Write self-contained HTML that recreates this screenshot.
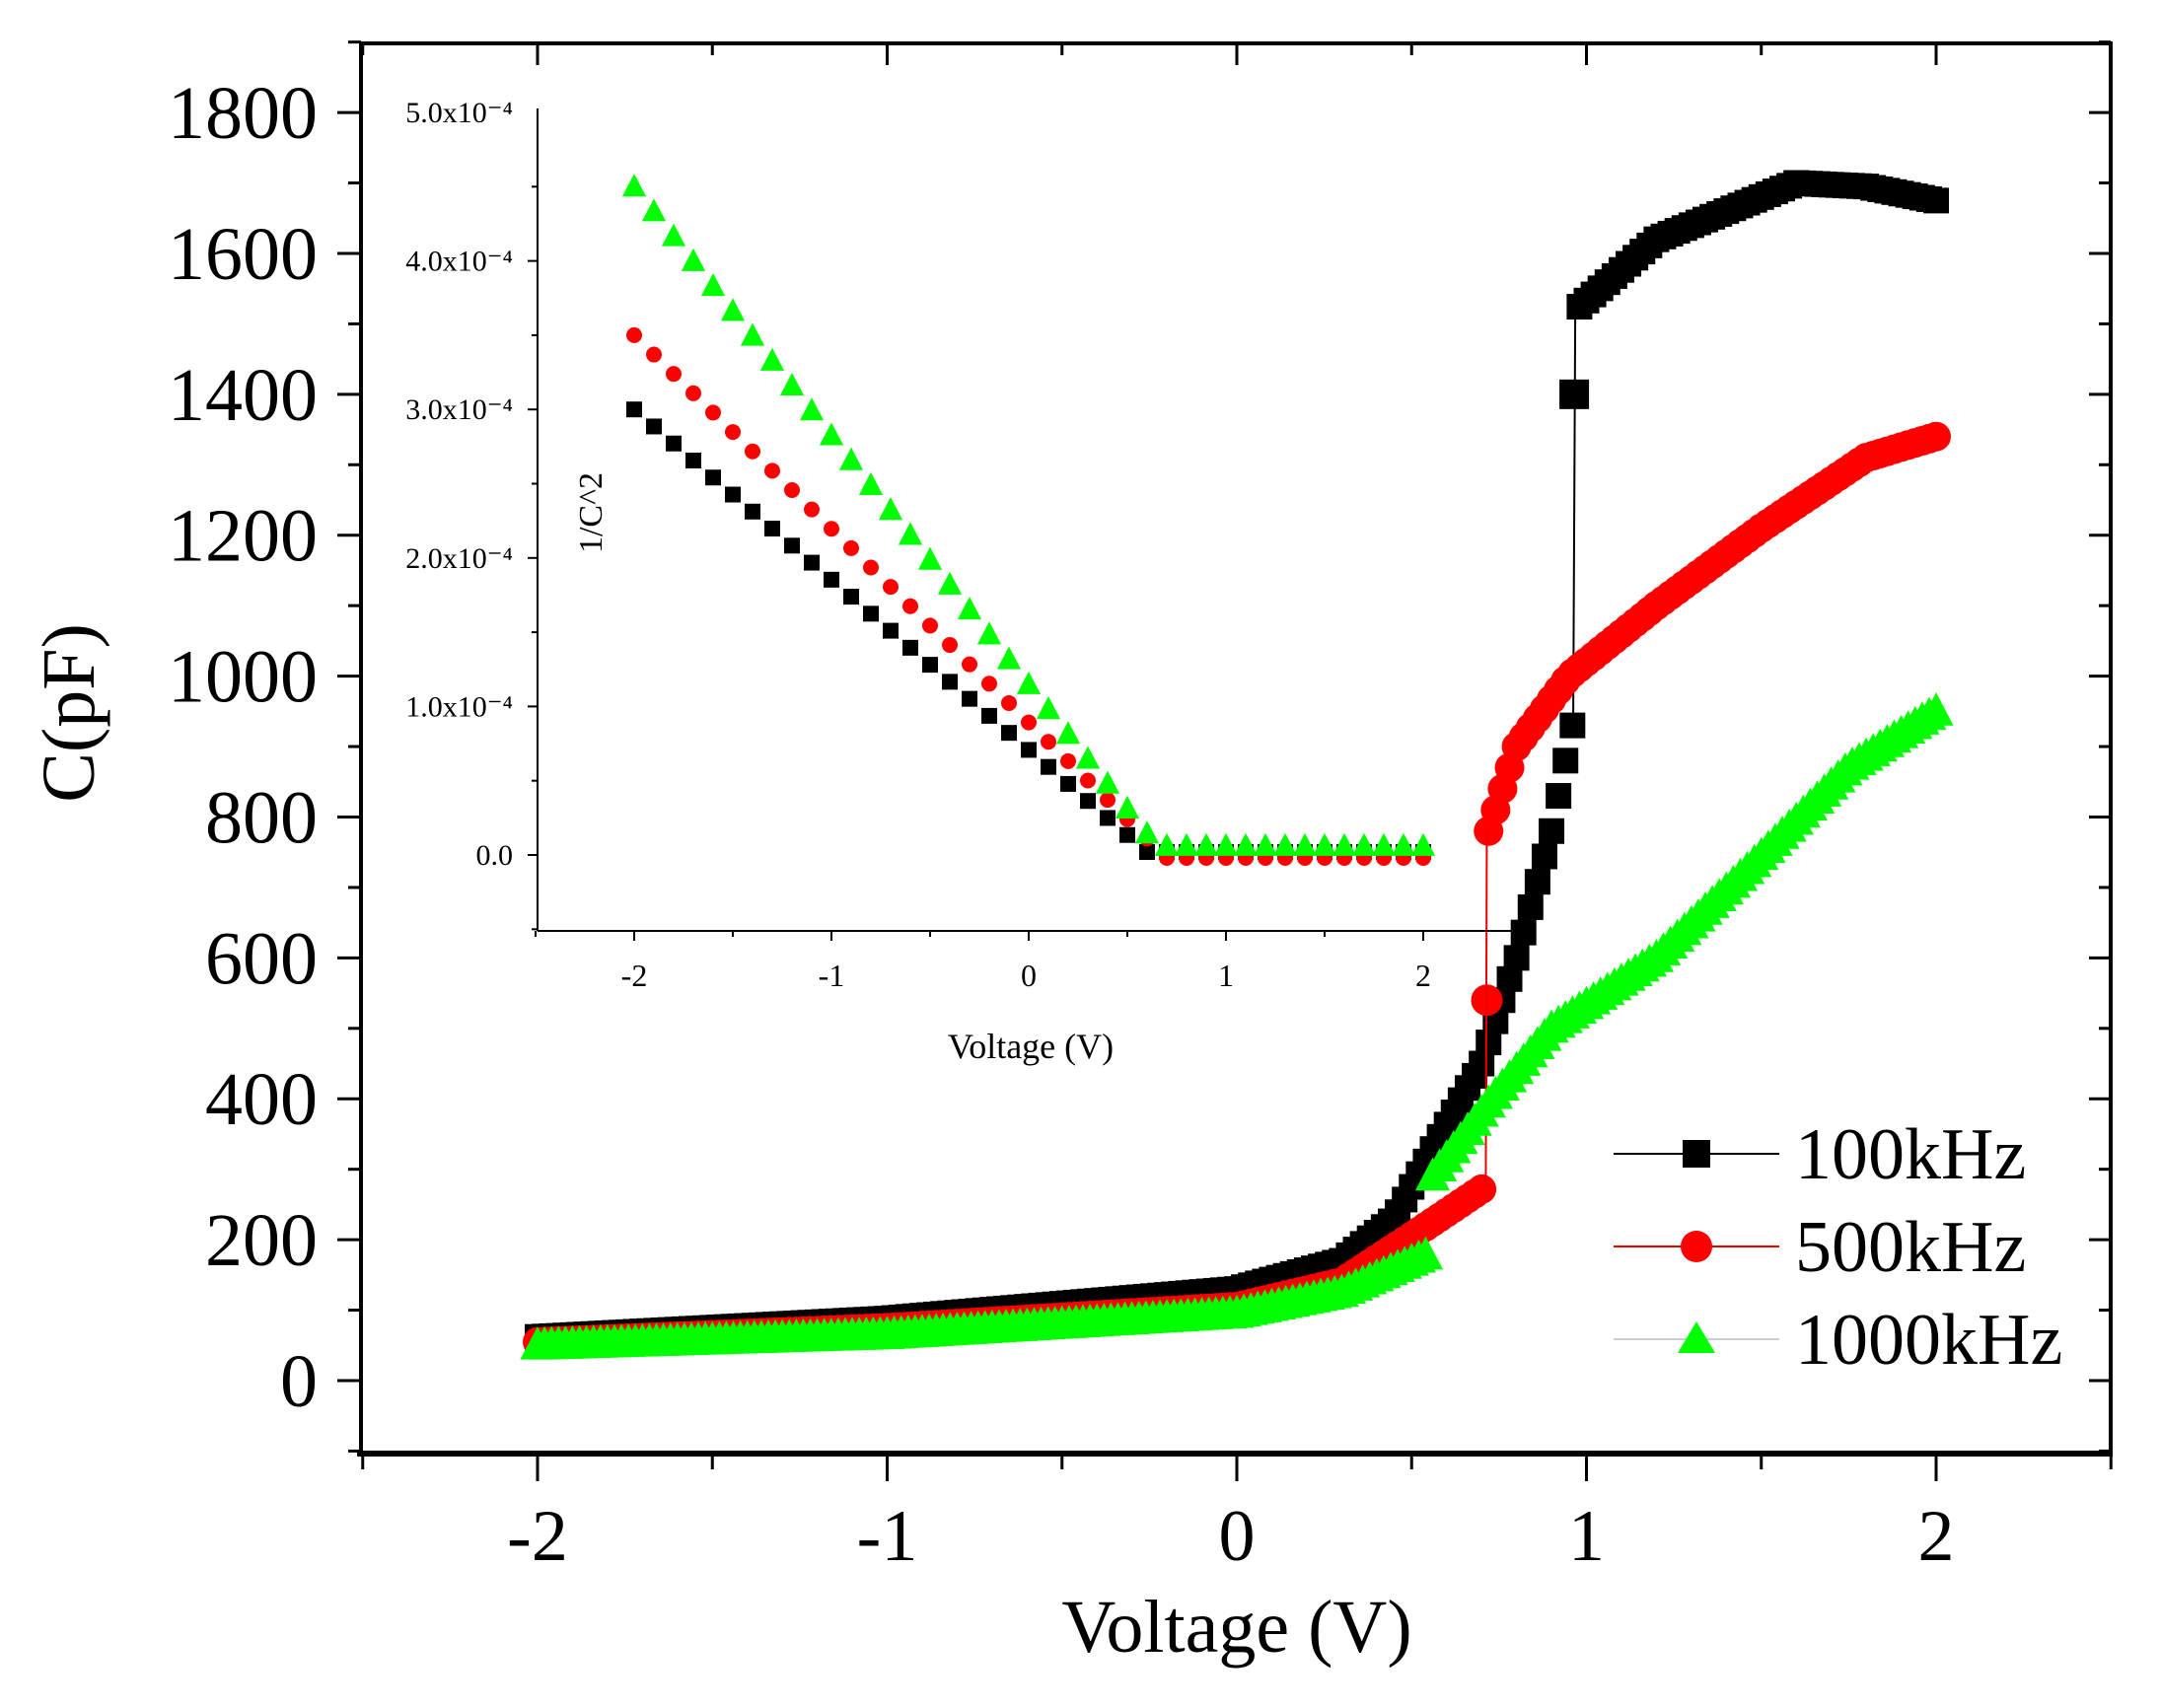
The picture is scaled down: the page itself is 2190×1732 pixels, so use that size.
<!DOCTYPE html>
<html><head><meta charset="utf-8">
<style>
html,body{margin:0;padding:0;background:#fff;}
svg{display:block;}
text{font-family:"Liberation Serif",serif;fill:#000;}
</style></head>
<body>
<svg id="s" width="2190" height="1732" viewBox="0 0 2190 1732" xmlns="http://www.w3.org/2000/svg">
<rect width="2190" height="1732" fill="#fff"/>
<g id="g"></g>
<rect x="366" y="44" width="1774" height="1430" fill="none" stroke="#000" stroke-width="4"/>
<line x1="362" y1="1474" x2="2142" y2="1474" stroke="#000" stroke-width="6"/>
<g font-size="76" text-anchor="end" id="yl"></g>
<g font-size="74" text-anchor="middle" id="xl"></g>
<text x="1254" y="1675" font-size="76" text-anchor="middle">Voltage (V)</text>
<text transform="translate(95,723) rotate(-90)" font-size="76" text-anchor="middle">C(pF)</text>
<line x1="545" y1="110" x2="545" y2="944" stroke="#000" stroke-width="2"/>
<line x1="545" y1="944" x2="1545" y2="944" stroke="#000" stroke-width="2"/>
<g font-size="30" text-anchor="end" id="iyl"></g>
<g font-size="32" text-anchor="middle" id="ixl"></g>
<text x="1045" y="1073" font-size="36" text-anchor="middle">Voltage (V)</text>
<text transform="translate(610,520) rotate(-90)" font-size="34" text-anchor="middle">1/C^2</text>
<line x1="1636" y1="1170" x2="1804" y2="1170" stroke="#000" stroke-width="2"/>
<rect x="1706" y="1156" width="28" height="28" fill="#000"/>
<line x1="1636" y1="1264" x2="1804" y2="1264" stroke="#e00" stroke-width="2"/>
<circle cx="1720" cy="1264" r="16" fill="#f00"/>
<line x1="1636" y1="1358" x2="1804" y2="1358" stroke="#ccd" stroke-width="2"/>
<polygon points="1720,1340 1739,1372 1701,1372" fill="#0f0"/>
<text x="1820" y="1195" font-size="74">100kHz</text>
<text x="1820" y="1289" font-size="74">500kHz</text>
<text x="1820" y="1383" font-size="74">1000kHz</text>
</svg>
<script>
const NS="http://www.w3.org/2000/svg";
const s=document.getElementById('s'),g=document.getElementById('g');
function el(t,a,p){const e=document.createElementNS(NS,t);for(const k in a)e.setAttribute(k,a[k]);(p||g).appendChild(e);return e;}
const X=v=>1254+v*354.5, Y=c=>1400-c*0.7144;
const IX=v=>1043+v*200, IY=c=>867-c*150.6;
for(let v=-2.5;v<=2.51;v+=0.5){const maj=Math.abs(v-Math.round(v))<1e-6;
 el('line',{x1:X(v),y1:1474,x2:X(v),y2:1474+(maj?28:16),stroke:'#000','stroke-width':3},s);
 el('line',{x1:X(v),y1:44,x2:X(v),y2:44+(maj?22:12),stroke:'#000','stroke-width':3},s);
 if(maj){const t=el('text',{x:X(v),y:1582},document.getElementById('xl'));t.textContent=(v<0?'-':'')+Math.abs(v);}}
for(let c=-100;c<=1900;c+=100){const maj=c%200==0;
 el('line',{x1:366,y1:Y(c),x2:366-(maj?24:13),y2:Y(c),stroke:'#000','stroke-width':3},s);
 el('line',{x1:2140,y1:Y(c),x2:2140-(maj?22:12),y2:Y(c),stroke:'#000','stroke-width':3},s);
 if(maj&&c>=0){const t=el('text',{x:322,y:Y(c)+26},document.getElementById('yl'));t.textContent=c;}}
for(let v=-2.5;v<=2.51;v+=0.5){const maj=Math.abs(v-Math.round(v))<1e-6;
 el('line',{x1:IX(v),y1:944,x2:IX(v),y2:944+(maj?10:6),stroke:'#000','stroke-width':2},s);
 if(maj){const t=el('text',{x:IX(v),y:1000},document.getElementById('ixl'));t.textContent=(v<0?'-':'')+Math.abs(v);}}
const lab=['0.0','1.0x10⁻⁴','2.0x10⁻⁴','3.0x10⁻⁴','4.0x10⁻⁴','5.0x10⁻⁴'];
for(let i=0;i<=10;i++){const c=i*0.5-0.5;const maj=i%2==1;
 el('line',{x1:545,y1:IY(c),x2:545-(maj?10:6),y2:IY(c),stroke:'#000','stroke-width':2},s);}
for(let i=0;i<=5;i++){const t=el('text',{x:520,y:IY(i)+10},document.getElementById('iyl'));t.textContent=lab[i];}
function interp(pts,v){for(let i=0;i<pts.length-1;i++){if(v<=pts[i+1][0]){const [a,b]=pts[i],[c,d]=pts[i+1];return b+(d-b)*(v-a)/(c-a);}}return pts[pts.length-1][1];}
function sq(x,y,sz,f){el('rect',{x:x-sz/2,y:y-sz/2,width:sz,height:sz,fill:f});}
function ci(x,y,r,f){el('circle',{cx:x,cy:y,r:r,fill:f});}
function tr(x,y,sz,f){el('polygon',{points:`${x},${y-sz*0.6} ${x+sz*0.55},${y+sz*0.45} ${x-sz*0.55},${y+sz*0.45}`,fill:f});}
const ib=[[-2,3.0],[0.6,0.02],[2,0.02]], ir=[[-2,3.5],[0.7,-0.02],[2,-0.02]], ig=[[-2,4.5],[0.65,0.06],[2,0.06]];
for(let v=-2;v<=2.001;v+=0.1){sq(IX(v),IY(interp(ib,v)),16,'#000');}
for(let v=-2;v<=2.001;v+=0.1){ci(IX(v),IY(interp(ir,v)),8,'#f00');}
for(let v=-2;v<=2.001;v+=0.1){tr(IX(v),IY(interp(ig,v)),22,'#0f0');}
const B=[[-2,62],[-1,88],[0,130],[0.3,170],[0.45,230],[0.55,320],[0.7,450],[0.8,600],[0.9,780],[0.96,930],[0.97,1520],[1.2,1620],[1.6,1700],[1.8,1695],[2,1675]];
const R=[[-2,55],[-1,75],[0,105],[0.3,140],[0.5,205],[0.71,275],[0.715,540],[0.72,780],[0.8,900],[0.95,1000],[1.2,1100],[1.5,1210],[1.8,1310],[2,1340]];
const G=[[-2,50],[-1,65],[0,95],[0.3,125],[0.55,180],[0.56,290],[0.73,400],[0.9,500],[1.2,600],[1.45,720],[1.75,870],[2,950]];
for(let v=-2;v<=2.001;v+=0.02){sq(X(v),Y(interp(B,v)),26,'#000');}
sq(X(0.965),Y(1400),30,'#000');
el('line',{x1:X(0.962),y1:Y(930),x2:X(0.968),y2:Y(1520),stroke:'#000','stroke-width':2});
for(let v=-2;v<=2.001;v+=0.02){ci(X(v),Y(interp(R,v)),15,'#f00');}
ci(X(0.715),Y(540),16,'#f00');
el('line',{x1:X(0.712),y1:Y(275),x2:X(0.715),y2:Y(780),stroke:'#e00','stroke-width':2});
for(let v=-2;v<=2.001;v+=0.02){tr(X(v),Y(interp(G,v)),32,'#0f0');}
</script>
</body></html>
